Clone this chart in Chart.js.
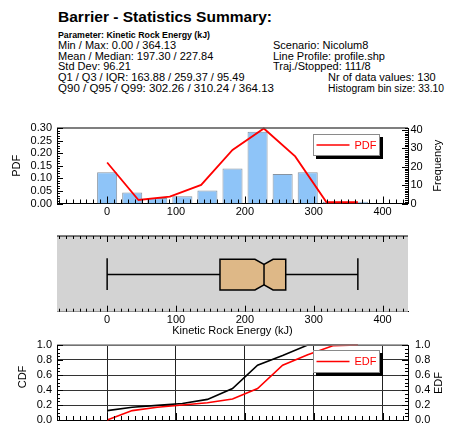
<!DOCTYPE html>
<html>
<head>
<meta charset="utf-8">
<script src="https://cdn.jsdelivr.net/npm/chart.js@4/dist/chart.umd.min.js"></script>
<style>
  html, body { margin: 0; padding: 0; background: #fff; }
  body { width: 458px; height: 424px; overflow: hidden; position: relative;
         font-family: "Liberation Sans", Arial, Helvetica, sans-serif; color: #000; }
  .t { position: absolute; white-space: nowrap; line-height: 1; transform-origin: 0 0; }
  .title { font-size: 14px; font-weight: bold; }
  .param { font-size: 9.5px; font-weight: bold; }
  .row { font-size: 10px; transform: scaleX(1.1); }
  canvas { position: absolute; left: 0; }
</style>
</head>
<body>
<div class="t title" data-w="214" style="left:58px;top:9.8px">Barrier - Statistics Summary:</div>
<div class="t param" data-w="152" style="left:58px;top:29.5px">Parameter: Kinetic Rock Energy (kJ)</div>
<div class="t row" style="left:58px;top:40.8px">Min / Max: 0.00 / 364.13</div>
<div class="t row" style="left:58px;top:51.5px">Mean / Median: 197.30 / 227.84</div>
<div class="t row" style="left:58px;top:62.2px">Std Dev: 96.21</div>
<div class="t row" style="left:58px;top:73.2px">Q1 / Q3 / IQR: 163.88 / 259.37 / 95.49</div>
<div class="t row" data-w="216" style="left:58px;top:83.8px">Q90 / Q95 / Q99: 302.26 / 310.24 / 364.13</div>
<div class="t row" style="left:273px;top:40.8px">Scenario: Nicolum8</div>
<div class="t row" style="left:273px;top:51.5px">Line Profile: profile.shp</div>
<div class="t row" style="left:273px;top:62.2px">Traj./Stopped: 111/8</div>
<div class="t row" style="left:328px;top:73.2px">Nr of data values: 130</div>
<div class="t row" data-w="116" style="left:328px;top:83.8px">Histogram bin size: 33.10</div>

<canvas id="hist" width="458" height="115" style="top:110px"></canvas>
<canvas id="box" width="458" height="115" style="top:225px"></canvas>
<canvas id="cdf" width="458" height="89" style="top:335px"></canvas>

<script>
// ---- data ----
const energyMax = 364.13;
const sampleCount = 130;
const energyTicks = [0, 100, 200, 300, 400];

const histBinCenters = [0, 36.41, 72.83, 109.24, 145.65, 182.07, 218.48, 254.89, 291.30, 327.72, 364.13];
const histFrequency  = [17, 6, 3, 4, 7, 19, 39, 16, 17, 1, 1];

const pdfEnergy  = [0, 45.52, 91.03, 136.55, 182.07, 227.58, 273.10, 318.61, 364.13];
const pdfDensity = [0.163, 0.014, 0.027, 0.074, 0.213, 0.298, 0.187, 0.005, 0.005];

const cdfEnergy    = [0, 36.41, 72.83, 109.24, 145.65, 182.07, 218.48, 254.89, 291.30, 327.72, 364.13];
const cdfModel     = [0.125, 0.17, 0.195, 0.22, 0.275, 0.42, 0.73, 0.86, 1.0, 1.0, 1.0];
const edfEmpirical = [0, 0.125, 0.17, 0.20, 0.23, 0.28, 0.42, 0.73, 0.87, 0.99, 1.0];

// min, Q1, median, Q3, max
const boxSummary = [0.00, 163.88, 227.84, 259.37, 364.13];

const pdfTicks  = [0, 0.05, 0.10, 0.15, 0.20, 0.25, 0.30];
const freqTicks = [0, 10, 20, 30, 40];
const cdfTicks  = [0, 0.2, 0.4, 0.6, 0.8, 1.0];

// ---- header lines with a set width are stretched horizontally to it ----
document.querySelectorAll('.t[data-w]').forEach(el => {
  el.style.transform = 'none';
  const natural = el.getBoundingClientRect().width;
  const target = parseFloat(el.dataset.w);
  if (natural > 0) el.style.transform = 'scaleX(' + (target / natural).toFixed(4) + ')';
});

// ---- shared helpers ----
const FONT = "'Liberation Sans', Arial, Helvetica, sans-serif";
const xMin = -0.2 * energyMax, xMax = 1.2 * energyMax;
const pts = (xs, ys) => xs.map((x, i) => ({ x, y: ys[i] }));
const fixTicks = list => scale => { scale.ticks = list.map(v => ({ value: v })); };
const fixWidth = w => scale => { scale.width = w; scale.paddingTop = 0; scale.paddingBottom = 0; };

function drawComb(chart, scaleId, step, majorEvery, side, minorLen, majorLen) {
  const s = chart.scales[scaleId], a = chart.chartArea, ctx = chart.ctx;
  const first = Math.ceil(s.min / step - 1e-9), last = Math.floor(s.max / step + 1e-9);
  ctx.save();
  ctx.strokeStyle = '#000';
  ctx.lineWidth = 1;
  ctx.beginPath();
  for (let i = first; i <= last; i++) {
    const p = Math.round(s.getPixelForValue(i * step)) + 0.5;
    const len = (i % majorEvery === 0) ? majorLen : minorLen;
    if (side === 'bottom') { ctx.moveTo(p, a.bottom); ctx.lineTo(p, a.bottom - len); }
    else if (side === 'top') { ctx.moveTo(p, a.top); ctx.lineTo(p, a.top + len); }
    else if (side === 'left') { ctx.moveTo(a.left, p); ctx.lineTo(a.left + len, p); }
    else { ctx.moveTo(a.right, p); ctx.lineTo(a.right - len, p); }
  }
  ctx.stroke();
  ctx.restore();
}

function drawTopEdge(chart, color, width) {
  const a = chart.chartArea, ctx = chart.ctx;
  ctx.save();
  ctx.strokeStyle = color;
  ctx.lineWidth = width;
  ctx.beginPath();
  ctx.moveTo(a.left, a.top);
  ctx.lineTo(a.right, a.top);
  ctx.stroke();
  ctx.restore();
}

function drawLegendBox(chart, dataset, fromRight, fromTop, h) {
  const a = chart.chartArea, ctx = chart.ctx;
  const w = 67, x = a.right - fromRight - w, y = a.top + fromTop;
  ctx.save();
  ctx.fillStyle = '#000';
  ctx.fillRect(x + 3, y + 3, w, h);
  ctx.fillStyle = '#fff';
  ctx.fillRect(x, y, w, h);
  ctx.strokeStyle = '#8a8a8a';
  ctx.lineWidth = 1;
  ctx.strokeRect(x + 0.5, y + 0.5, w - 1, h - 1);
  ctx.strokeStyle = dataset.borderColor;
  ctx.lineWidth = 1.5;
  ctx.beginPath();
  ctx.moveTo(x + 3.5, y + h / 2);
  ctx.lineTo(x + 36.5, y + h / 2);
  ctx.stroke();
  ctx.fillStyle = dataset.borderColor;
  ctx.font = '11px ' + FONT;
  ctx.textAlign = 'left';
  ctx.textBaseline = 'middle';
  ctx.fillText(dataset.label, x + 41.5, y + h / 2 + 0.5);
  ctx.restore();
}

function drawVerticalTitle(ctx, text, x, y) {
  ctx.save();
  ctx.translate(x, y);
  ctx.rotate(-Math.PI / 2);
  ctx.fillStyle = '#000';
  ctx.font = '11px ' + FONT;
  ctx.textAlign = 'center';
  ctx.textBaseline = 'middle';
  ctx.fillText(text, 0, 0);
  ctx.restore();
}

Chart.defaults.font.family = FONT;
Chart.defaults.font.size = 11;
Chart.defaults.color = '#000';
Chart.defaults.animation = false;

const tickFont = { family: FONT, size: 11 };

// ---- histogram with PDF ----
new Chart(document.getElementById('hist'), {
  data: {
    datasets: [
      {
        type: 'bar', label: 'Frequency', yAxisID: 'yFreq', order: 2,
        data: pts(histBinCenters, histFrequency),
        backgroundColor: '#8ec4f8', borderColor: '#8793a0', borderWidth: 1,
        categoryPercentage: 1.0, barPercentage: 0.8
      },
      {
        type: 'line', label: 'PDF', yAxisID: 'yPdf', order: 1,
        data: pts(pdfEnergy, pdfDensity),
        borderColor: '#ff0000', borderWidth: 1.8, pointRadius: 0, tension: 0, clip: false
      }
    ]
  },
  options: {
    responsive: false, devicePixelRatio: 1,
    layout: { padding: { top: 18, left: 0, right: 0, bottom: 0 } },
    plugins: { legend: { display: false }, tooltip: { enabled: false } },
    scales: {
      x: {
        type: 'linear', min: xMin, max: xMax, offset: false,
        afterBuildTicks: fixTicks(energyTicks), afterFit: s => { s.height = 21.5; },
        grid: { display: false, drawTicks: false },
        border: { display: true, color: '#000', width: 1 },
        ticks: { font: tickFont, padding: 1.5, maxRotation: 0, autoSkip: false }
      },
      yPdf: {
        position: 'left', min: 0, max: 0.30,
        afterBuildTicks: fixTicks(pdfTicks), afterFit: fixWidth(57),
        grid: { display: false, drawTicks: false },
        border: { display: true, color: '#000', width: 1 },
        ticks: { font: tickFont, padding: 5, autoSkip: false, callback: v => v.toFixed(2) }
      },
      yFreq: {
        position: 'right', min: 0, max: 41,
        afterBuildTicks: fixTicks(freqTicks), afterFit: fixWidth(50),
        grid: { display: false, drawTicks: false },
        border: { display: true, color: '#000', width: 1 },
        ticks: { font: tickFont, padding: 2.5, autoSkip: false, callback: v => String(v) }
      }
    }
  },
  plugins: [{
    id: 'histDecor',
    afterDraw(chart) {
      const a = chart.chartArea;
      drawTopEdge(chart, '#555', 1.5);
      drawComb(chart, 'x', 10, 10, 'bottom', 4, 7);
      drawComb(chart, 'yPdf', 0.01, 5, 'left', 3, 6);
      drawComb(chart, 'yFreq', 1, 10, 'right', 3, 6);
      drawLegendBox(chart, chart.data.datasets[1], 28, 6, 22);
      const cy = (a.top + a.bottom) / 2;
      drawVerticalTitle(chart.ctx, 'PDF', 17, cy);
      drawVerticalTitle(chart.ctx, 'Frequency', 437.5, cy);
    }
  }]
});

// ---- notched box plot ----
new Chart(document.getElementById('box'), {
  type: 'scatter',
  data: { datasets: [{ label: 'Kinetic Rock Energy (kJ)', data: [] }] },
  options: {
    responsive: false, devicePixelRatio: 1,
    layout: { padding: { top: 11, left: 57, right: 50, bottom: 0 } },
    plugins: { legend: { display: false }, tooltip: { enabled: false } },
    scales: {
      x: {
        type: 'linear', min: xMin, max: xMax,
        afterBuildTicks: fixTicks(energyTicks), afterFit: s => { s.height = 28.3; },
        grid: { display: false, drawTicks: false },
        border: { display: true, color: '#000', width: 1 },
        ticks: { font: tickFont, padding: 1.7, maxRotation: 0, autoSkip: false },
        title: { display: true, text: 'Kinetic Rock Energy (kJ)', font: tickFont, padding: { top: 0, bottom: 2.4 } }
      },
      y: { display: false, min: 0, max: 1 }
    }
  },
  plugins: [{
    id: 'boxDecor',
    beforeDatasetsDraw(chart) {
      const a = chart.chartArea, ctx = chart.ctx;
      ctx.save();
      ctx.fillStyle = '#d3d3d3';
      ctx.fillRect(a.left, a.top, a.right - a.left, a.bottom - a.top);
      ctx.restore();
    },
    afterDraw(chart) {
      const xs = chart.scales.x, ys = chart.scales.y, ctx = chart.ctx;
      const [mn, q1, med, q3, mx] = boxSummary;
      const notch = 1.57 * (q3 - q1) / Math.sqrt(sampleCount);
      const cy = ys.getPixelForValue(0.49);
      const top = ys.getPixelForValue(0.49 + 0.203), bot = ys.getPixelForValue(0.49 - 0.203);
      const depth = (bot - top) * 0.165;
      const px = v => xs.getPixelForValue(v);

      ctx.save();
      ctx.lineWidth = 1.5;
      ctx.strokeStyle = '#000';
      // whiskers
      ctx.beginPath();
      ctx.moveTo(px(mn), cy); ctx.lineTo(px(q1), cy);
      ctx.moveTo(px(q3), cy); ctx.lineTo(px(mx), cy);
      ctx.moveTo(px(mn), top - 1); ctx.lineTo(px(mn), bot);
      ctx.moveTo(px(mx), top - 1); ctx.lineTo(px(mx), bot);
      ctx.stroke();
      // notched box
      ctx.beginPath();
      ctx.moveTo(px(q1), top);
      ctx.lineTo(px(med - notch), top);
      ctx.lineTo(px(med), top + depth);
      ctx.lineTo(px(med + notch), top);
      ctx.lineTo(px(q3), top);
      ctx.lineTo(px(q3), bot);
      ctx.lineTo(px(med + notch), bot);
      ctx.lineTo(px(med), bot - depth);
      ctx.lineTo(px(med - notch), bot);
      ctx.lineTo(px(q1), bot);
      ctx.closePath();
      ctx.fillStyle = '#deb887';
      ctx.fill();
      ctx.stroke();
      // median
      ctx.beginPath();
      ctx.moveTo(px(med), top + depth);
      ctx.lineTo(px(med), bot - depth);
      ctx.stroke();
      ctx.restore();

      drawTopEdge(chart, '#000', 1);
      drawComb(chart, 'x', 10, 10, 'top', 3, 6);
      drawComb(chart, 'x', 10, 10, 'bottom', 3, 6);
    }
  }]
});

// ---- CDF / EDF ----
new Chart(document.getElementById('cdf'), {
  type: 'line',
  data: {
    datasets: [
      {
        label: 'CDF', yAxisID: 'yCdf', order: 2,
        data: pts(cdfEnergy, cdfModel),
        borderColor: '#000000', borderWidth: 1.6, pointRadius: 0, tension: 0, clip: false
      },
      {
        label: 'EDF', yAxisID: 'yCdf', order: 1,
        data: pts(cdfEnergy, edfEmpirical),
        borderColor: '#ff0000', borderWidth: 1.6, pointRadius: 0, tension: 0, clip: false
      }
    ]
  },
  options: {
    responsive: false, devicePixelRatio: 1,
    layout: { padding: { top: 10, left: 0, right: 0, bottom: 0 } },
    plugins: { legend: { display: false }, tooltip: { enabled: false } },
    scales: {
      x: {
        type: 'linear', min: xMin, max: xMax,
        afterBuildTicks: fixTicks(energyTicks), afterFit: s => { s.height = 4; },
        grid: { display: true, color: '#222', lineWidth: 1, drawTicks: false },
        border: { display: true, color: '#000', width: 1 },
        ticks: { display: false }
      },
      yCdf: {
        position: 'left', min: 0, max: 1,
        afterBuildTicks: fixTicks(cdfTicks), afterFit: fixWidth(57),
        grid: { display: true, color: '#333', lineWidth: 1, drawTicks: false },
        border: { display: true, color: '#000', width: 1 },
        ticks: { font: tickFont, padding: 5, autoSkip: false, callback: v => v.toFixed(1) }
      },
      yEdf: {
        position: 'right', min: 0, max: 1,
        afterBuildTicks: fixTicks(cdfTicks), afterFit: fixWidth(50),
        grid: { display: false, drawTicks: false },
        border: { display: true, color: '#000', width: 1 },
        ticks: { font: tickFont, padding: 7, autoSkip: false, callback: v => v.toFixed(1) }
      }
    }
  },
  plugins: [{
    id: 'cdfDecor',
    afterDraw(chart) {
      drawTopEdge(chart, '#888', 1.5);
      drawComb(chart, 'x', 10, 10, 'bottom', 4, 7);
      drawComb(chart, 'yCdf', 0.05, 4, 'left', 3, 6);
      drawComb(chart, 'yEdf', 0.05, 4, 'right', 3, 6);
      drawLegendBox(chart, chart.data.datasets[1], 28, 5, 23);
      drawVerticalTitle(chart.ctx, 'CDF', 23, 42);
      drawVerticalTitle(chart.ctx, 'EDF', 439, 48);
    }
  }]
});
</script>
</body>
</html>
